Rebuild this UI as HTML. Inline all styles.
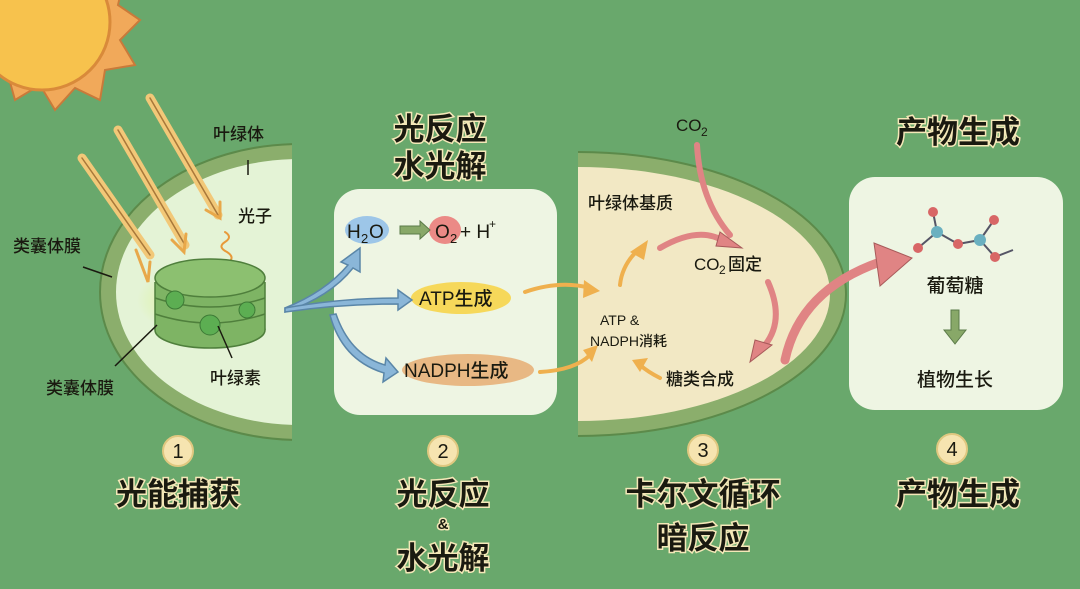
<!DOCTYPE html>
<html><head><meta charset="utf-8"><style>
html,body{margin:0;padding:0;background:#69a86c;}
svg{display:block;font-family:"Liberation Sans","Noto Sans CJK SC",sans-serif;}
.t{font-family:"Liberation Sans","Noto Sans CJK SC",sans-serif;fill:#1a1a10;font-weight:500;}
.big{font-family:"Liberation Sans","Noto Sans CJK SC",sans-serif;font-weight:700;fill:#1a1a10;stroke:#f4e8b8;stroke-width:3;paint-order:stroke;}
</style></head><body>
<svg width="1080" height="589" viewBox="0 0 1080 589" xmlns="http://www.w3.org/2000/svg">
<defs>
<clipPath id="cl"><rect x="0" y="0" width="292" height="589"/></clipPath>
<clipPath id="cr"><rect x="578" y="0" width="400" height="589"/></clipPath>
<radialGradient id="glow"><stop offset="0" stop-color="#f8ff90"/><stop offset="1" stop-color="#d4f07a" stop-opacity="0"/></radialGradient>
</defs>
<rect width="1080" height="589" fill="#69a86c"/>
<g>
<polygon points="40,-60 60,-40 85,-55 95,-25 125,-25 118,5 140,20 120,40 135,65 105,70 100,100 75,88 55,110 40,85 15,100 8,75 -20,72 -10,45 -30,30" fill="#f1a95a" stroke="#c97a3a" stroke-width="2"/>
<circle cx="42" cy="22" r="68" fill="#f7c24d" stroke="#d98a3a" stroke-width="3"/>
</g>
<g clip-path="url(#cl)">
<ellipse cx="300" cy="292" rx="200" ry="148" fill="#8bae6c" stroke="#5c8a4a" stroke-width="2"/>
<ellipse cx="300" cy="292" rx="184" ry="133" fill="#e4f3d6"/>
</g>
<g stroke-linecap="round" fill="none">
<path d="M82 158 L150 255" stroke="#f2c878" stroke-width="9"/><path d="M82 158 L150 255" stroke="#a8783a" stroke-width="1.5"/>
<path d="M118 130 L185 245" stroke="#f2c878" stroke-width="9"/><path d="M118 130 L185 245" stroke="#a8783a" stroke-width="1.5"/>
<path d="M150 98 L218 215" stroke="#f2c878" stroke-width="9"/><path d="M150 98 L218 215" stroke="#a8783a" stroke-width="1.5"/>
<path d="M136 250 L148 282 L150 262" stroke="#e8a84a" stroke-width="3"/>
<path d="M172 240 L184 252 L186 234" stroke="#e8a84a" stroke-width="3"/>
<path d="M206 210 L220 218 L220 202" stroke="#e8a84a" stroke-width="3"/>
<path d="M225 232 q8 5 0 10 q-8 5 2 10 q8 5 2 10 q-6 5 5 12" stroke="#e89a3a" stroke-width="2"/>
</g>
<ellipse cx="202" cy="300" rx="65" ry="36" fill="url(#glow)"/>
<g stroke="#4f7f3c" stroke-width="1.5" fill="#7eb464">
<ellipse cx="210" cy="330" rx="55" ry="18"/>
<rect x="155" y="282" width="110" height="48" fill="#7eb464" stroke="none"/>
<line x1="155" y1="282" x2="155" y2="330"/><line x1="265" y1="282" x2="265" y2="330"/>
<path d="M155 298 q55 18 110 0" fill="none"/><path d="M155 314 q55 18 110 0" fill="none"/>
<ellipse cx="210" cy="278" rx="55" ry="19" fill="#8cc070"/>
</g>
<g fill="#5cae52" stroke="#3d7a36">
<circle cx="175" cy="300" r="9"/><circle cx="210" cy="325" r="10"/><circle cx="247" cy="310" r="8"/>
</g>
<g stroke="#1a1a10" stroke-width="1.5">
<line x1="248" y1="160" x2="248" y2="175"/><line x1="83" y1="267" x2="112" y2="277"/>
<line x1="115" y1="366" x2="157" y2="325"/><line x1="218" y1="326" x2="232" y2="358"/>
</g>
<g class="t" font-size="17">
<text x="213" y="140">叶绿体</text><text x="238" y="222">光子</text>
<text x="13" y="252">类囊体膜</text><text x="46" y="394">类囊体膜</text><text x="210" y="384">叶绿素</text>
</g>
<rect x="334" y="189" width="223" height="226" rx="26" fill="#eef5e3"/>
<text class="big" x="440" y="140" font-size="31" text-anchor="middle">光反应</text>
<text class="big" x="440" y="177" font-size="31" text-anchor="middle">水光解</text>
<ellipse cx="367" cy="230" rx="22" ry="14" fill="#9dc6e8"/>
<ellipse cx="445" cy="230" rx="16" ry="14" fill="#eb8a86"/>
<ellipse cx="461" cy="298" rx="50" ry="16" fill="#f6d85a"/>
<ellipse cx="468" cy="370" rx="66" ry="16" fill="#e8b884"/>
<g fill="#8ab6d8" stroke="#5a86a8" stroke-width="1.5">
<path d="M285 308 Q325 292 348 265 L341 262 L360 248 L360 272 L353 268 Q330 297 285 312Z"/>
<path d="M285 308 Q340 298 398 298 L398 290 L412 300 L398 310 L398 304 Q340 304 285 312Z"/>
<path d="M336 314 Q350 355 385 365 L386 358 L398 372 L383 382 L384 373 Q342 360 330 315Z"/>
</g>
<g class="t" font-size="19">
<text x="347" y="238">H</text><text x="361" y="243" font-size="13">2</text><text x="369" y="238">O</text>
<text x="435" y="238">O</text><text x="450" y="243" font-size="13">2</text><text x="460" y="238">+ H</text><text x="489" y="228" font-size="12">+</text>
<text x="419" y="305">ATP生成</text><text x="404" y="377">NADPH生成</text>
</g>
<path d="M400 226 L420 226 L420 221 L430 230 L420 239 L420 234 L400 234Z" fill="#88a868" stroke="#5a7a48"/>
<g clip-path="url(#cr)">
<ellipse cx="578" cy="294" rx="268" ry="142" fill="#8bae6c" stroke="#5c8a4a" stroke-width="2"/>
<ellipse cx="578" cy="294" rx="252" ry="127" fill="#f2e8c4"/>
</g>
<g fill="none" stroke="#efb04e" stroke-width="4" stroke-linecap="round">
<path d="M525 292 Q560 280 590 288"/><path d="M540 372 Q575 370 590 355"/>
<path d="M620 285 Q622 265 638 250"/><path d="M660 378 Q648 372 640 365"/>
</g>
<g fill="#efb04e">
<polygon points="584,280 600,291 583,298"/><polygon points="583,350 598,345 592,362"/>
<polygon points="630,252 648,240 644,260"/><polygon points="632,360 648,358 640,372"/>
</g>
<g fill="none" stroke="#e08484" stroke-width="6" stroke-linecap="round">
<path d="M697 145 Q700 200 730 235"/><path d="M660 248 Q700 225 725 242"/>
<path d="M768 282 Q785 320 765 345"/>
</g>
<g fill="#e08484" stroke="#a85a5a" stroke-width="1">
<polygon points="720,232 742,248 716,246"/><polygon points="755,340 772,345 750,362"/>
</g>
<g class="t" font-size="17">
<text x="676" y="131">CO</text><text x="701" y="136" font-size="12">2</text>
<text x="588" y="209">叶绿体基质</text>
<text x="694" y="270">CO</text><text x="719" y="274" font-size="12">2</text><text x="728" y="270">固定</text>
<text x="666" y="385">糖类合成</text>
</g>
<g class="t" font-size="14">
<text x="600" y="325">ATP &amp;</text><text x="590" y="346">NADPH消耗</text>
</g>
<text class="big" x="958" y="143" font-size="31" text-anchor="middle">产物生成</text>
<rect x="849" y="177" width="214" height="233" rx="26" fill="#eef5e3"/>
<path d="M785 360 Q800 290 880 262" fill="none" stroke="#e08484" stroke-width="9" stroke-linecap="round"/>
<polygon points="874,243 912,258 880,286" fill="#e08484" stroke="#a85a5a" stroke-width="1"/>
<g stroke="#556" stroke-width="2"><line x1="933" y1="212" x2="937" y2="232"/><line x1="937" y1="232" x2="918" y2="248"/><line x1="937" y1="232" x2="958" y2="244"/><line x1="958" y1="244" x2="980" y2="240"/><line x1="980" y1="240" x2="994" y2="220"/><line x1="980" y1="240" x2="995" y2="257"/><line x1="995" y1="257" x2="1013" y2="250"/></g>
<g fill="#d86666"><circle cx="933" cy="212" r="5"/><circle cx="918" cy="248" r="5"/><circle cx="958" cy="244" r="5"/><circle cx="994" cy="220" r="5"/><circle cx="995" cy="257" r="5"/></g>
<g fill="#6ab0c0"><circle cx="937" cy="232" r="6"/><circle cx="980" cy="240" r="6"/></g>
<text class="t" x="955" y="292" font-size="19" text-anchor="middle">葡萄糖</text>
<path d="M951 310 L959 310 L959 330 L966 330 L955 344 L944 330 L951 330Z" fill="#88a868" stroke="#5a7a48"/>
<text class="t" x="955" y="386" font-size="19" text-anchor="middle">植物生长</text>
<g fill="#f6e4b0" stroke="#e0c880" stroke-width="2"><circle cx="178" cy="451" r="15"/><circle cx="443" cy="451" r="15"/><circle cx="703" cy="450" r="15"/><circle cx="952" cy="449" r="15"/></g>
<g class="t" font-size="20" text-anchor="middle"><text x="178" y="458">1</text><text x="443" y="458">2</text><text x="703" y="457">3</text><text x="952" y="456">4</text></g>
<g font-size="31" text-anchor="middle">
<text class="big" x="178" y="505">光能捕获</text>
<text class="big" x="443" y="505">光反应</text>
<text class="big" x="443" y="529" font-size="15">&amp;</text>
<text class="big" x="443" y="569">水光解</text>
<text class="big" x="703" y="505">卡尔文循环</text>
<text class="big" x="703" y="549">暗反应</text>
<text class="big" x="958" y="505">产物生成</text>
</g>
</svg>
</body></html>
